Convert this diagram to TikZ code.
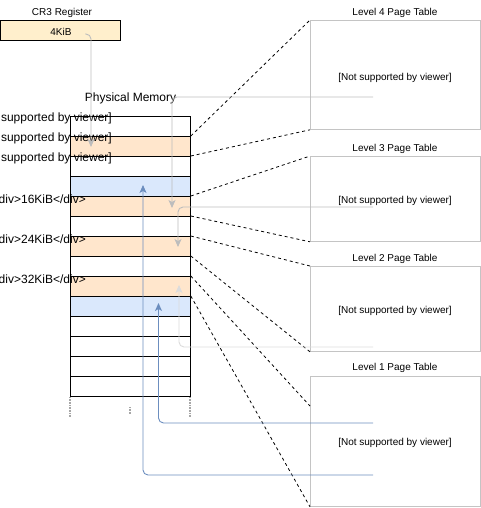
\documentclass[tikz,border=0pt]{standalone}
\usepackage{fontspec}
\setmainfont{Liberation Sans}
\usetikzlibrary{arrows.meta}
\definecolor{orfill}{HTML}{FFE6CC}
\definecolor{crfill}{HTML}{FFEFCC}
\definecolor{blfill}{HTML}{DAE8FC}
\definecolor{blline}{HTML}{6C8EBF}
\definecolor{grline}{HTML}{BDBDBD}
\definecolor{ltline}{HTML}{DCDCDC}
\definecolor{boxline}{HTML}{C4C4C4}
\begin{document}
\begin{tikzpicture}[x=1pt,y=-1pt,
  memrow/.style={draw=black,line width=0.8pt,minimum width=120pt,minimum height=20pt,inner sep=0pt,anchor=north west},
  tablebox/.style={draw=boxline,line width=0.8pt,minimum width=170pt,inner sep=0pt,anchor=north west},
  small/.style={font=\fontsize{10}{12}\selectfont,inner sep=0pt},
  big/.style={font=\fontsize{12}{14}\selectfont,inner sep=0pt},
  dashlink/.style={draw=black,line width=0.8pt,dash pattern=on 3pt off 3pt},
  grayarrow/.style={draw=grline,line width=0.9pt,rounded corners=5pt,-{Stealth[length=8pt,width=7pt,inset=2pt]}},
  lightarrow/.style={draw=ltline,line width=0.9pt,rounded corners=5pt,-{Stealth[length=8pt,width=7pt,inset=2pt]}},
  bluearrow/.style={draw=blline,line width=0.9pt,rounded corners=5pt,-{Stealth[length=8pt,width=7pt,inset=2pt]}},
  dotline/.style={draw=gray!70,line width=1.5pt,dash pattern=on 0.8pt off 0.8pt}]
\useasboundingbox (0,0) rectangle (481,508);
% CR3 register
\node[small] (cr3lab) at (62,13) {CR3 Register};
\node[draw=black,fill=crfill,line width=0.8pt,minimum width=120pt,minimum height=20pt,anchor=north west,inner sep=0pt] (cr3) at (0,20) {};
\node[small] (cr3val) at (61,32) {4KiB};
\coordinate (cr3src) at (85,34);
% physical memory rows
\foreach \i/\c in {1/white,2/orfill,3/white,4/blfill,5/orfill,6/white,7/orfill,8/white,9/orfill,10/blfill,11/white,12/white,13/white,14/white}{
  \node[memrow,fill=\c] (r\i) at (70,{116+20*(\i-1)}) {};
}
\node[big] (pmlab) at (130.5,98) {Physical Memory};
% dotted continuation
\coordinate (d1a) at (70,397); \coordinate (d1b) at (70,417);
\coordinate (d2a) at (190,397); \coordinate (d2b) at (190,417);
\coordinate (d3a) at (130,407); \coordinate (d3b) at (130,414);
\draw[dotline] (d1a) -- (d1b);
\draw[dotline] (d2a) -- (d2b);
\draw[dotline] (d3a) -- (d3b);
% left labels
\node[big,anchor=east] (lab1) at (112,118) {[Not supported by viewer]};
\node[big,anchor=east] (lab2) at (112,138) {[Not supported by viewer]};
\node[big,anchor=east] (lab3) at (112,158) {[Not supported by viewer]};
\node[big,anchor=east] (lab4) at (86,199) {<div>16KiB</div>};
\node[big,anchor=east] (lab5) at (86,239) {<div>24KiB</div>};
\node[big,anchor=east] (lab6) at (86,279) {<div>32KiB</div>};
% page tables
\node[tablebox,minimum height=109pt] (L4) at (310,20) {};
\node[small] (L4lab) at (395,13) {Level 4 Page Table};
\node[small] (L4txt) at (395,78) {[Not supported by viewer]};
\node[tablebox,minimum height=85pt] (L3) at (310,156) {};
\node[small] (L3lab) at (395,149) {Level 3 Page Table};
\node[small] (L3txt) at (395,201) {[Not supported by viewer]};
\node[tablebox,minimum height=85pt] (L2) at (310,266) {};
\node[small] (L2lab) at (395,259) {Level 2 Page Table};
\node[small] (L2txt) at (395,311) {[Not supported by viewer]};
\node[tablebox,minimum height=130pt] (L1) at (310,376) {};
\node[small] (L1lab) at (395,368) {Level 1 Page Table};
\node[small] (L1txt) at (395,443) {[Not supported by viewer]};
\coordinate (L1mid) at (310,406);
% dashed links
\draw[dashlink] (r2.north east) -- (L4.north west);
\draw[dashlink] (r3.north east) -- (L4.south west);
\draw[dashlink] (r5.north east) -- (L3.north west);
\draw[dashlink] (r6.north east) -- (L3.south west);
\draw[dashlink] (r7.north east) -- (L2.north west);
\draw[dashlink] (r8.north east) -- (L2.south west);
\draw[dashlink] (r9.north east) -- (L1mid);
\draw[dashlink] (r10.north east) -- (L1.south west);
% entry connectors
\coordinate (e4) at (373,97);
\coordinate (e3) at (373,207);
\coordinate (e2) at (373,347);
\coordinate (e1a) at (373,423);
\coordinate (e1b) at (373,475);
\coordinate (t0) at (91,147);
\coordinate (t4) at (172,208);
\coordinate (t3) at (178,247);
\coordinate (t2) at (179,285);
\coordinate (t1a) at (158.5,303);
\coordinate (t1b) at (143,185);
\draw[grayarrow] (cr3src) -| (t0);
\draw[grayarrow] (e4) -| (t4);
\draw[grayarrow] (e3) -| (t3);
\draw[lightarrow] (e2) -| (t2);
\draw[bluearrow] (e1a) -| (t1a);
\draw[bluearrow] (e1b) -| (t1b);
\end{tikzpicture}
\end{document}
